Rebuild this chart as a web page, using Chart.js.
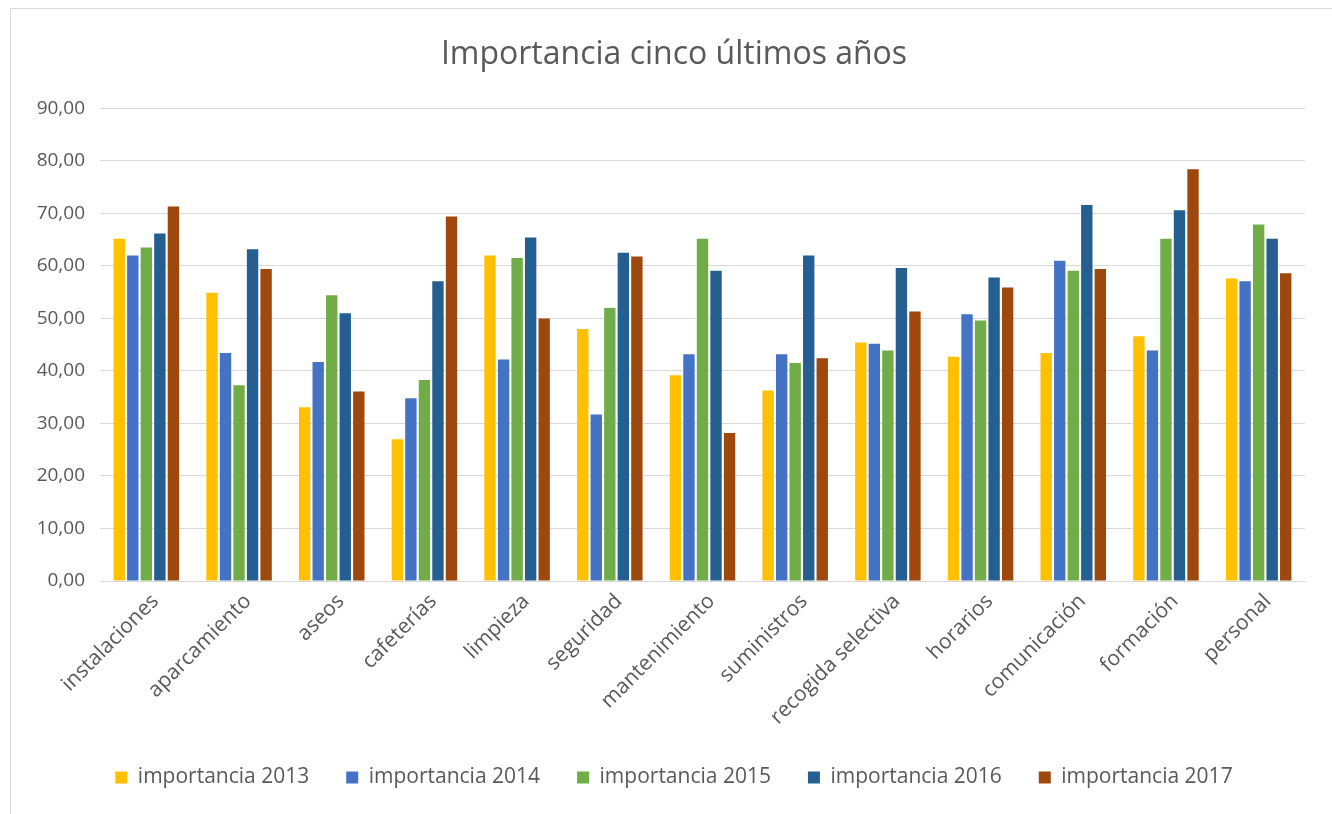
<!DOCTYPE html>
<html>
<head>
<meta charset="utf-8">
<script src="https://cdn.jsdelivr.net/npm/chart.js@4/dist/chart.umd.min.js"></script>
<style>
    body { margin: 0; background: #fff; }
    #box {
        position: absolute; left: 10px; top: 8px;
        width: 1330px; height: 806px;
        border: 1px solid #d9d9d9;
    }
    canvas { display: block; }
</style>
</head>
<body>
<div id="box"><canvas id="chart" width="1321" height="805"></canvas></div>
<script>
// Категории и значения по годам
const categories = ['instalaciones', 'aparcamiento', 'aseos', 'cafeterías', 'limpieza', 'seguridad',
    'mantenimiento', 'suministros', 'recogida selectiva', 'horarios', 'comunicación', 'formación', 'personal'];

const imp2013 = [65.2, 54.9, 33.1, 27.0, 62.0, 48.0, 39.2, 36.3, 45.4, 42.7, 43.4, 46.6, 57.6];
const imp2014 = [62.0, 43.4, 41.7, 34.8, 42.2, 31.7, 43.2, 43.2, 45.2, 50.8, 61.0, 43.9, 57.1];
const imp2015 = [63.5, 37.3, 54.4, 38.3, 61.5, 52.0, 65.2, 41.5, 43.9, 49.6, 59.1, 65.2, 67.9];
const imp2016 = [66.2, 63.2, 51.0, 57.1, 65.4, 62.5, 59.1, 62.0, 59.6, 57.8, 71.6, 70.6, 65.2];
const imp2017 = [71.3, 59.4, 36.1, 69.4, 50.0, 61.8, 28.2, 42.4, 51.3, 55.9, 59.4, 78.4, 58.6];

const seriesNames = ['importancia 2013', 'importancia 2014', 'importancia 2015', 'importancia 2016', 'importancia 2017'];
const seriesColors = ['#FFC000', '#4472C4', '#70AD47', '#255E91', '#9E480E'];

const yMax = 90;
const yStep = 10;

const textColor = '#595959';
const fontFamily = '"Open Sans", "Noto Sans", sans-serif';

const allSeries = [imp2013, imp2014, imp2015, imp2016, imp2017];

// Заголовок и легенда в оригинале центрированы по всей ширине, а не по области графика
const shiftBoxes = {
    id: 'shiftBoxes',
    afterLayout(chart) {
        [chart.titleBlock, chart.legend].forEach(b => {
            if (b) { b.left += 16; b.right += 16; }
        });
    }
};

const ctx = document.getElementById('chart').getContext('2d');
new Chart(ctx, {
    type: 'bar',
    data: {
        labels: categories,
        datasets: allSeries.map((values, i) => ({
            label: seriesNames[i],
            data: values,
            backgroundColor: seriesColors[i],
            borderWidth: 0,
            categoryPercentage: 0.73,
            barPercentage: 0.84
        }))
    },
    options: {
        responsive: false,
        animation: false,
        layout: { padding: { left: 0, right: 27, top: 0, bottom: 16 } },
        plugins: {
            title: {
                display: true,
                text: 'Importancia cinco últimos años',
                color: textColor,
                font: { family: fontFamily, size: 32, weight: 'normal' },
                padding: { top: 27, bottom: 34 }
            },
            legend: {
                position: 'bottom',
                labels: {
                    color: textColor,
                    font: { family: fontFamily, size: 21 },
                    boxWidth: 12,
                    boxHeight: 12,
                    padding: 37
                }
            },
            tooltip: { enabled: false }
        },
        scales: {
            x: {
                grid: { display: false },
                border: { color: '#d9d9d9' },
                ticks: {
                    color: textColor,
                    font: { family: fontFamily, size: 21 },
                    minRotation: 45,
                    maxRotation: 45,
                    autoSkip: false,
                    padding: 0,
                    labelOffset: 9
                },
                afterFit: function(scale) { scale.height = 149; }
            },
            y: {
                min: 0,
                max: yMax,
                grid: { color: '#d9d9d9', drawTicks: false },
                border: { display: false },
                ticks: {
                    stepSize: yStep,
                    padding: 15,
                    color: textColor,
                    font: { family: fontFamily, size: 19 },
                    callback: v => v.toFixed(2).replace('.', ',')
                },
                afterFit: function(scale) { scale.width = 89; }
            }
        }
    },
    plugins: [shiftBoxes]
});
</script>
</body>
</html>
